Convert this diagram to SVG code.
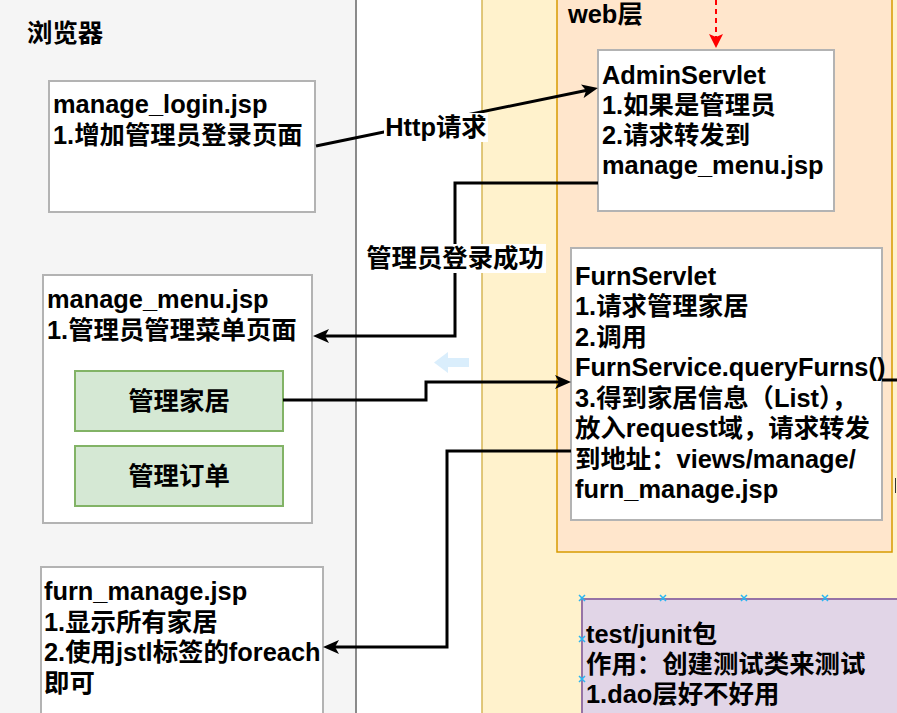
<svg xmlns="http://www.w3.org/2000/svg" width="897" height="713" viewBox="0 0 897 713">
<defs>
<style>
text{font-family:"Liberation Sans","Noto Sans CJK SC",sans-serif;font-weight:bold;font-size:25.4px;fill:#000}
.box{fill:#fff;stroke:#b3b3b3;stroke-width:2}
.btn{fill:#d5e8d4;stroke:#82b366;stroke-width:2}
.conn{fill:none;stroke:#000;stroke-width:3}
.lbl{fill:#fff;stroke:none}
.mk{stroke:#29b6f2;stroke-width:1.5;fill:none}
</style>
<marker id="ah" markerUnits="userSpaceOnUse" viewBox="0 0 16 14" refX="10" refY="7" markerWidth="16" markerHeight="14" orient="auto">
<path d="M0,0 L16,7 L0,14 L4,7 Z" fill="#000"/>
</marker>
<marker id="ahr" markerUnits="userSpaceOnUse" viewBox="0 0 14 14" refX="8" refY="7" markerWidth="14" markerHeight="14" orient="auto">
<path d="M0,0 L14,7 L0,14 L3,7 Z" fill="#ff0000"/>
</marker>
</defs>

<g id="panel-browser">
<rect x="-10" y="-10" width="366" height="740" fill="#f5f5f5" stroke="#666666" stroke-width="1.5"/>
<text x="27" y="42">浏览器</text>
</g>
<g id="panel-yellow">
<rect x="482" y="-10" width="430" height="740" fill="#fff2cc" stroke="#d6b656" stroke-width="1.5"/>
</g>
<g id="panel-web">
<rect x="557" y="-10" width="335" height="562" fill="#ffe6cc" stroke="#d79b00" stroke-width="1.5"/>
<text x="568" y="23">web层</text>
</g>

<g id="manage_login">
<rect class="box" x="49" y="81" width="266" height="131"/>
<text x="53" y="113">manage_login.jsp</text>
<text x="53" y="144">1.增加管理员登录页面</text>
</g>

<g id="AdminServlet">
<rect class="box" x="598" y="50" width="236" height="161"/>
<text x="602" y="84">AdminServlet</text>
<text x="602" y="114">1.如果是管理员</text>
<text x="602" y="144">2.请求转发到</text>
<text x="602" y="174">manage_menu.jsp</text>
</g>

<g id="manage_menu">
<rect class="box" x="43" y="275" width="269" height="248"/>
<text x="47" y="308">manage_menu.jsp</text>
<text x="47" y="339">1.管理员管理菜单页面</text>
</g>
<g id="btn-furn">
<rect class="btn" x="75" y="371" width="208" height="60"/>
<text x="179" y="410" text-anchor="middle">管理家居</text>
</g>
<g id="btn-order">
<rect class="btn" x="75" y="446" width="208" height="60"/>
<text x="179" y="485" text-anchor="middle">管理订单</text>
</g>

<g id="FurnServlet">
<rect class="box" x="571" y="248" width="311" height="272"/>
<text x="575" y="285">FurnServlet</text>
<text x="575" y="315.4">1.请求管理家居</text>
<text x="575" y="345.9">2.调用</text>
<text x="575" y="376.3">FurnService.queryFurns()</text>
<text x="575" y="406.7">3.得到家居信息（List），</text>
<text x="575" y="437.2">放入request域，请求转发</text>
<text x="575" y="467.6">到地址：views/manage/</text>
<text x="575" y="498">furn_manage.jsp</text>
</g>

<g id="furn_manage">
<rect class="box" x="41" y="567" width="282" height="170"/>
<text x="44" y="600">furn_manage.jsp</text>
<text x="44" y="630.5">1.显示所有家居</text>
<text x="44" y="661">2.使用jstl标签的foreach</text>
<text x="44" y="691.5">即可</text>
</g>

<g id="test-junit">
<rect x="582" y="599" width="330" height="130" fill="#e1d5e7" stroke="#9673a6" stroke-width="2"/>
<text x="586" y="643">test/junit包</text>
<text x="586" y="673">作用：创建测试类来测试</text>
<text x="586" y="703">1.dao层好不好用</text>
<path class="mk" d="M579,595l6,6m0,-6l-6,6M660,595l6,6m0,-6l-6,6M741,595l6,6m0,-6l-6,6M822,595l6,6m0,-6l-6,6M579,636l6,6m0,-6l-6,6M579,676l6,6m0,-6l-6,6"/>
</g>

<g id="hint-arrow">
<polygon points="434,362.5 448,352 448,358 469,358 469,367 448,367 448,373" fill="#daeefc"/>
</g>

<g id="connectors">
<path d="M716,0 L716,42" fill="none" stroke="#ff0000" stroke-width="2" stroke-dasharray="5,4" marker-end="url(#ahr)"/>
<path class="conn" d="M316,146 L592,89.2" marker-end="url(#ah)"/>
<rect class="lbl" x="384" y="113" width="104" height="29"/>
<text x="436" y="136" text-anchor="middle">Http请求</text>
<path class="conn" d="M598,183 L455,183 L455,336 L319,336" marker-end="url(#ah)"/>
<rect class="lbl" x="364" y="244" width="182" height="29"/>
<text x="455" y="267" text-anchor="middle">管理员登录成功</text>
<path class="conn" d="M283,400 L426,400 L426,382 L565,382" marker-end="url(#ah)"/>
<path class="conn" d="M571,451 L447,451 L447,647 L329,647" marker-end="url(#ah)"/>
<path class="conn" d="M882,380 L900,380"/>
<path d="M895.5,478 L895.5,493" stroke="#333" stroke-width="1"/>
</g>
</svg>
